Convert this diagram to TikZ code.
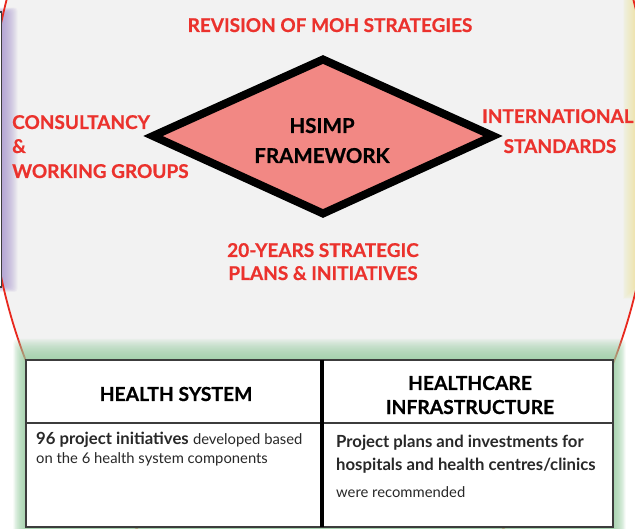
\documentclass[tikz,border=0pt]{standalone}
\usepackage{fontspec}
\setmainfont{Lato}
\newfontfamily\heavyfont{Lato}[BoldFeatures={FakeBold=0.6}]
\definecolor{bggray}{RGB}{242,242,242}
\definecolor{arcred}{RGB}{232,40,30}
\definecolor{lblred}{RGB}{235,50,45}
\definecolor{diafill}{RGB}{242,136,132}
\definecolor{glowgreen}{RGB}{150,205,160}
\definecolor{glowpurple}{RGB}{160,140,205}
\definecolor{glowyellow}{RGB}{238,226,140}
\definecolor{tblline}{RGB}{60,60,60}
\definecolor{bodytxt}{RGB}{40,40,40}
\begin{document}
\begin{tikzpicture}[x=1pt,y=-1pt,
  redlbl/.style={text=lblred,font=\heavyfont\fontsize{19}{22}\selectfont\bfseries,inner sep=0pt},
  blklbl/.style={text=black,font=\heavyfont\fontsize{20.5}{24}\selectfont\bfseries,inner sep=0pt},
  hdrlbl/.style={text=black,font=\heavyfont\fontsize{19.3}{22}\selectfont\bfseries,inner sep=0pt},
  bodylbl/.style={text=bodytxt,font=\fontsize{16.7}{19}\selectfont,inner sep=0pt,anchor=base west},
  smalllbl/.style={text=bodytxt,font=\fontsize{14.8}{17}\selectfont,inner sep=0pt,anchor=base west}]
\useasboundingbox (0,0) rectangle (635,529);
\begin{scope}
\clip (0,0) rectangle (635,529);
\fill[white] (0,0) rectangle (635,529);
% large gray area bounded by red arc
\fill[bggray] (320,150) ellipse [x radius=332pt, y radius=454pt];
% yellow glow at right
\foreach \i in {1,...,16}{
  \fill[glowyellow,opacity=0.06] (637-0.9*\i,-10) rectangle (650,285+0.9*\i);
}
% neighbouring box at left with purple glow
\foreach \i in {1,...,16}{
  \fill[glowpurple,opacity=0.07,rounded corners=3pt] (-10,14-0.4*\i) rectangle (1.5+\i,284+0.5*\i);
}
\draw[arcred,line width=1.8pt] (320,150) ellipse [x radius=332pt, y radius=454pt];
\fill[white] (-10,12) rectangle (1.5,287);
\draw[tblline,line width=1.1pt] (-10,12) -- (1.5,12) -- (1.5,287) -- (-10,287);
% green glow around table
\foreach \i in {1,...,14}{
  \fill[glowgreen,opacity=0.1,rounded corners=4pt] (26-0.9*\i,360-1.5*\i) rectangle (613+0.9*\i,560);
}
\end{scope}
% diamond
\draw[line width=8pt,line join=miter,miter limit=20,fill=diafill]
  (153,136) -- (323,59.5) -- (493,136) -- (323,213.5) -- cycle;
\node[blklbl,anchor=base] (hsimp) at (322,133) {HSIMP};
\node[blklbl,anchor=base] (frame) at (322,163) {FRAMEWORK};
% red labels
\node[redlbl,anchor=base] (rev) at (330,32) {REVISION OF MOH STRATEGIES};
\node[redlbl,anchor=base west] (cons1) at (12,129) {CONSULTANCY};
\node[redlbl,anchor=base west] (cons2) at (12,153) {\&};
\node[redlbl,anchor=base west] (cons3) at (12,178) {WORKING GROUPS};
\node[redlbl,anchor=base west] (intl1) at (482,123) {INTERNATIONAL};
\node[redlbl,anchor=base] (intl2) at (560,153) {STANDARDS};
\node[redlbl,anchor=base] (yrs1) at (323,257) {20-YEARS STRATEGIC};
\node[redlbl,anchor=base] (yrs2) at (323,280) {PLANS \& INITIATIVES};
% table
\fill[white] (26,360) rectangle (613,527);
\draw[tblline,line width=1.4pt] (26,360) rectangle (613,527);
\draw[tblline,line width=1.4pt] (26,423) -- (613,423);
\draw[black,line width=4.5pt] (322,360) -- (322,527);
\node[hdrlbl,anchor=base] (hs) at (176,401) {HEALTH SYSTEM};
\node[hdrlbl,anchor=base] (hc1) at (470,390) {HEALTHCARE};
\node[hdrlbl,anchor=base] (hc2) at (470,414) {INFRASTRUCTURE};
\node[bodylbl] (b1) at (36,444) {\textbf{96 project initiatives} {\fontsize{14.8}{17}\selectfont developed based}};
\node[smalllbl] (b2) at (36,463) {on the 6 health system components};
\node[bodylbl] (b3) at (336,447) {\textbf{Project plans and investments for}};
\node[bodylbl] (b4) at (336,471) {\textbf{hospitals and health centres/clinics}};
\node[smalllbl] (b5) at (336,497) {were recommended};
\end{tikzpicture}
\end{document}
